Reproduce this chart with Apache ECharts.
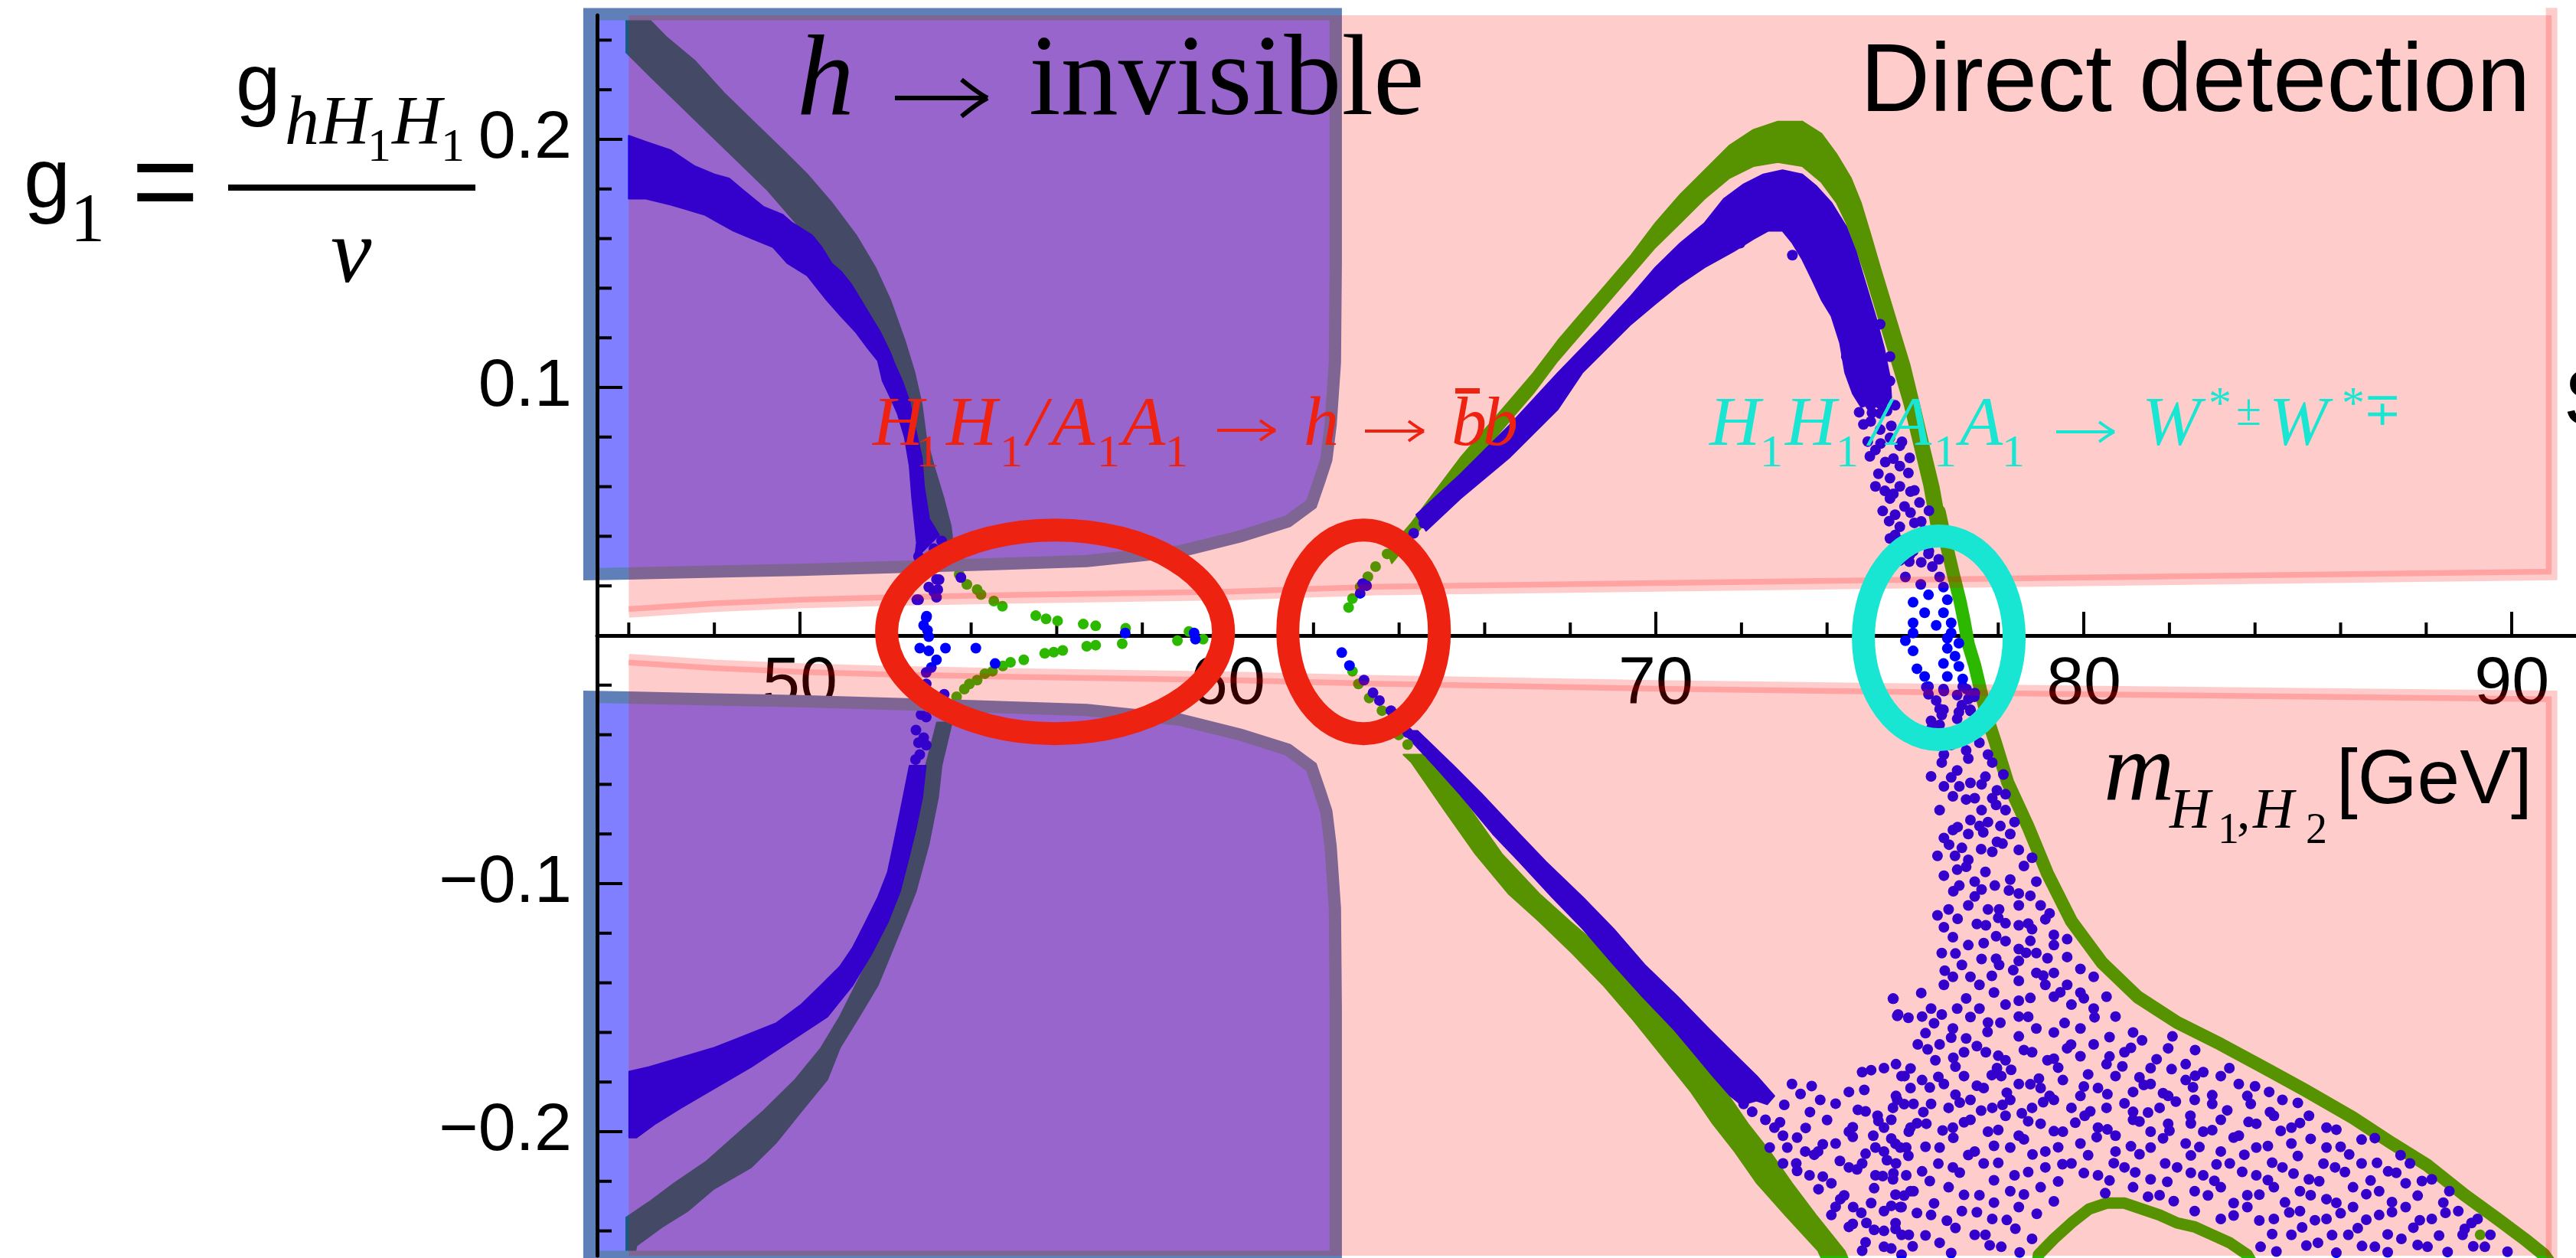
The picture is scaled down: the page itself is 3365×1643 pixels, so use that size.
<!DOCTYPE html>
<html>
<head>
<meta charset="utf-8">
<script src="https://cdn.jsdelivr.net/npm/echarts@6/dist/echarts.min.js"></script>
<style>
  html, body { margin: 0; padding: 0; background: #fff; }
  #chart { width: 3365px; height: 1643px; }
</style>
</head>
<body>
<div id="chart"></div>
<script>
// ---------------- axes ----------------
const xRange = [45.26, 91.5];
const yRange = [-0.25, 0.25];
const xMajorTicks = [50, 60, 70, 80, 90];
const xMinorTicks = [46, 48, 52, 54, 56, 58, 62, 64, 66, 68, 72, 74, 76, 78, 82, 84, 86, 88];
const yMajorTicks = [-0.2, -0.1, 0, 0.1, 0.2];
const yTickLabels = [-0.2, -0.1, 0.1, 0.2];
const yMinorTicks = [-0.24, -0.22, -0.18, -0.16, -0.14, -0.12, -0.08, -0.06, -0.04, -0.02,
                     0.02, 0.04, 0.06, 0.08, 0.12, 0.14, 0.16, 0.18, 0.22, 0.24];

// ---------------- excluded regions ----------------
// h -> invisible boundary (upper and lower)
const hInvUpper = [[45.08,0.2505],[62.52,0.2505],[62.52,0.15],[62.50,0.11],[62.40,0.085],[62.30,0.071],[62.15,0.063],[61.95,0.053],[61.40,0.046],[60.30,0.040],[58.90,0.034],[56.70,0.030],[54.00,0.0285],[52.00,0.0275],[50.00,0.0265],[48.00,0.0258],[46.00,0.0250],[45.08,0.0247]];
const hInvLower = [[45.08,-0.2505],[62.52,-0.2505],[62.52,-0.15],[62.50,-0.11],[62.40,-0.085],[62.30,-0.071],[62.15,-0.063],[61.95,-0.053],[61.40,-0.046],[60.30,-0.040],[58.90,-0.034],[56.70,-0.030],[54.00,-0.0285],[52.00,-0.0275],[50.00,-0.0265],[48.00,-0.0258],[46.00,-0.0250],[45.08,-0.0247]];
// direct detection limit
const ddUpperEdge = [[46,0.0095],[48,0.0118],[50,0.0133],[52,0.0142],[55,0.0152],[60,0.0165],[63.5,0.0185],[70,0.0200],[80,0.0222],[90.93,0.0246]];
const ddLowerEdge = [[46,-0.0097],[48,-0.0120],[50,-0.0135],[52,-0.0145],[55,-0.0155],[60,-0.0168],[63.5,-0.0183],[70,-0.0203],[80,-0.0225],[90.93,-0.0245]];
const ddLimits = { mMin: 46, mMax: 90.93, gTop: 0.25, gBottom: -0.25 };

// ---------------- scan points: dense bands (outlines) ----------------
const ulGreenBand = [[46.45,0.2520],[46.40,0.2497],[46.86,0.2415],[47.54,0.2317],[48.23,0.2186],[48.91,0.2072],[49.60,0.1957],[50.17,0.1859],[50.74,0.1745],[51.31,0.1614],[51.76,0.1484],[52.11,0.1353],[52.45,0.1189],[52.68,0.1059],[52.85,0.0928],[52.95,0.0797],[53.13,0.0683],[53.36,0.0552],[53.53,0.0438],[53.59,0.0340],[53.30,0.0340],[53.25,0.0389],[53.02,0.0487],[52.79,0.0601],[52.62,0.0716],[52.50,0.0846],[52.28,0.0993],[52.05,0.1124],[51.76,0.1255],[51.42,0.1353],[50.96,0.1467],[50.39,0.1565],[49.82,0.1680],[49.25,0.1794],[48.57,0.1908],[47.88,0.2023],[47.20,0.2137],[46.51,0.2252],[45.94,0.2350],[45.94,0.2520]];
const ulBlueBand = [[46.00,0.2015],[46.40,0.1990],[46.97,0.1957],[47.54,0.1892],[48.00,0.1859],[48.34,0.1843],[48.68,0.1794],[49.14,0.1729],[49.60,0.1696],[49.82,0.1663],[50.28,0.1614],[50.51,0.1565],[50.74,0.1500],[50.96,0.1467],[51.19,0.1418],[51.42,0.1353],[51.65,0.1287],[51.88,0.1222],[52.11,0.1140],[52.22,0.1091],[52.39,0.1026],[52.56,0.0944],[52.68,0.0846],[52.85,0.0716],[52.90,0.0601],[53.02,0.0471],[53.25,0.0405],[52.68,0.0307],[52.73,0.0372],[52.68,0.0454],[52.62,0.0552],[52.56,0.0683],[52.45,0.0797],[52.28,0.0895],[52.11,0.0961],[51.93,0.1026],[51.82,0.1108],[51.59,0.1157],[51.31,0.1222],[50.96,0.1287],[50.62,0.1353],[50.17,0.1451],[49.71,0.1500],[49.37,0.1565],[48.91,0.1598],[48.45,0.1631],[48.11,0.1663],[47.77,0.1696],[47.31,0.1720],[46.97,0.1737],[46.40,0.1761],[46.00,0.1761]];
const llGreenBand = [[53.55,-0.0350],[53.31,-0.0525],[53.23,-0.0651],[53.01,-0.0841],[52.71,-0.1031],[52.42,-0.1157],[52.12,-0.1284],[51.82,-0.1410],[51.38,-0.1537],[50.93,-0.1663],[50.64,-0.1790],[50.04,-0.1916],[49.45,-0.2043],[48.86,-0.2144],[47.97,-0.2233],[47.37,-0.2321],[46.78,-0.2384],[46.18,-0.2460],[46.10,-0.2530],[45.94,-0.2530],[45.94,-0.2346],[46.48,-0.2283],[47.07,-0.2207],[47.82,-0.2119],[48.48,-0.2018],[49.15,-0.1916],[49.89,-0.1790],[50.49,-0.1663],[50.93,-0.1537],[51.30,-0.1410],[51.75,-0.1259],[52.05,-0.1132],[52.34,-0.1006],[52.56,-0.0841],[52.79,-0.0651],[52.94,-0.0525],[53.20,-0.0350]];
const llBlueBand = [[46.01,-0.1758],[46.48,-0.1739],[47.22,-0.1701],[47.97,-0.1663],[48.71,-0.1613],[49.45,-0.1562],[50.04,-0.1486],[50.49,-0.1410],[50.93,-0.1335],[51.23,-0.1259],[51.53,-0.1157],[51.82,-0.1056],[52.05,-0.0955],[52.19,-0.0841],[52.34,-0.0715],[52.56,-0.0525],[52.94,-0.0525],[52.86,-0.0651],[52.71,-0.0778],[52.53,-0.0904],[52.34,-0.1031],[52.05,-0.1157],[51.67,-0.1284],[51.23,-0.1410],[50.64,-0.1537],[49.75,-0.1638],[48.86,-0.1739],[47.97,-0.1828],[47.22,-0.1904],[46.63,-0.1967],[46.18,-0.2024],[46.01,-0.2024]];
const archGreenBand = [[63.72,0.0340],[64.29,0.0454],[64.86,0.0585],[65.43,0.0716],[66.00,0.0830],[66.57,0.0944],[67.14,0.1059],[67.71,0.1189],[68.28,0.1304],[68.85,0.1418],[69.42,0.1533],[69.99,0.1663],[70.57,0.1778],[71.14,0.1876],[71.71,0.1974],[72.28,0.2039],[72.85,0.2072],[73.42,0.2072],[73.87,0.2023],[74.22,0.1941],[74.56,0.1843],[74.79,0.1745],[75.02,0.1614],[75.24,0.1484],[75.47,0.1353],[75.70,0.1222],[75.93,0.1092],[76.16,0.0928],[76.38,0.0765],[76.61,0.0601],[76.78,0.0438],[76.44,0.0438],[76.27,0.0601],[76.04,0.0765],[75.81,0.0928],[75.59,0.1059],[75.36,0.1189],[75.13,0.1320],[74.90,0.1451],[74.67,0.1565],[74.45,0.1663],[74.22,0.1745],[73.87,0.1827],[73.42,0.1892],[72.85,0.1908],[72.28,0.1892],[71.71,0.1843],[71.14,0.1761],[70.57,0.1663],[69.99,0.1565],[69.42,0.1451],[68.85,0.1337],[68.28,0.1222],[67.71,0.1108],[67.14,0.0977],[66.57,0.0863],[66.00,0.0748],[65.43,0.0634],[64.86,0.0503],[64.29,0.0389],[63.83,0.0291]];
const archBlueBand = [[64.40,0.0487],[65.43,0.0650],[66.57,0.0846],[67.71,0.1059],[68.63,0.1222],[69.42,0.1369],[69.99,0.1484],[70.57,0.1582],[71.14,0.1663],[71.59,0.1761],[72.05,0.1819],[72.51,0.1859],[72.96,0.1876],[73.42,0.1859],[73.76,0.1810],[74.10,0.1745],[74.45,0.1647],[74.67,0.1549],[74.90,0.1418],[75.13,0.1288],[75.33,0.1160],[75.47,0.1040],[75.50,0.0960],[75.30,0.0905],[75.05,0.0935],[74.80,0.0920],[74.60,0.0975],[74.42,0.1060],[74.30,0.1180],[74.10,0.1288],[73.87,0.1353],[73.65,0.1435],[73.42,0.1516],[73.19,0.1582],[72.96,0.1631],[72.62,0.1631],[72.28,0.1598],[71.82,0.1549],[71.14,0.1484],[70.57,0.1418],[69.99,0.1337],[69.42,0.1255],[68.85,0.1157],[68.28,0.1059],[67.71,0.0912],[66.57,0.0716],[65.43,0.0552],[64.63,0.0422]];
const lowerGreenBand = [[64.10,-0.0480],[64.29,-0.0512],[65.06,-0.0704],[65.78,-0.0880],[66.55,-0.1040],[67.27,-0.1152],[68.04,-0.1280],[68.76,-0.1408],[69.48,-0.1552],[70.30,-0.1728],[70.82,-0.1840],[71.33,-0.1968],[71.84,-0.2080],[72.36,-0.2208],[73.02,-0.2336],[73.79,-0.2480],[74.00,-0.2560],[74.61,-0.2560],[74.41,-0.2480],[73.74,-0.2336],[73.18,-0.2208],[72.66,-0.2080],[72.15,-0.1968],[71.64,-0.1840],[71.12,-0.1728],[70.30,-0.1552],[69.58,-0.1408],[68.86,-0.1280],[67.99,-0.1152],[67.27,-0.1040],[66.40,-0.0880],[65.68,-0.0704],[64.81,-0.0512],[64.55,-0.0480]];
const lowerBlueBand = [[64.06,-0.0384],[64.84,-0.0528],[65.42,-0.0640],[66.19,-0.0800],[66.81,-0.0912],[67.58,-0.1056],[68.30,-0.1184],[69.02,-0.1328],[69.69,-0.1456],[70.40,-0.1584],[70.87,-0.1680],[71.33,-0.1776],[71.74,-0.1856],[72.00,-0.1892],[72.35,-0.1875],[72.60,-0.1890],[72.77,-0.1856],[72.36,-0.1776],[71.79,-0.1680],[71.23,-0.1584],[70.51,-0.1456],[69.74,-0.1328],[69.02,-0.1184],[68.30,-0.1056],[67.43,-0.0912],[66.81,-0.0800],[65.94,-0.0640],[65.29,-0.0528],[64.43,-0.0384]];

// thin single-row green tracks
const rightGreenCurve = [[76.62,0.0500],[76.81,0.0350],[76.95,0.0247],[77.10,0.0144],[77.20,0.0061],[77.30,-0.0035],[77.45,-0.0120],[77.60,-0.0230],[77.74,-0.0330],[77.92,-0.0424],[78.22,-0.0592],[78.69,-0.0768],[79.15,-0.0960],[79.71,-0.1152],[80.43,-0.1320],[81.25,-0.1456],[82.18,-0.1560],[83.20,-0.1648],[84.23,-0.1744],[85.16,-0.1832],[86.29,-0.1944],[87.21,-0.2048],[88.03,-0.2136],[88.90,-0.2256],[89.67,-0.2352],[90.29,-0.2432],[90.75,-0.2496],[91.01,-0.2560]];
const bottomGreenArc = [[78.90,-0.2560],[78.94,-0.2496],[79.30,-0.2432],[79.71,-0.2368],[80.12,-0.2312],[80.53,-0.2288],[80.95,-0.2288],[81.36,-0.2312],[81.77,-0.2336],[82.18,-0.2368],[82.59,-0.2384],[83.00,-0.2416],[83.41,-0.2448],[83.82,-0.2496],[84.03,-0.2560]];

// ---------------- scan points: individual ----------------
const greenDots = [[53.62,0.0290],[53.72,0.0247],[53.90,0.0206],[54.14,0.0185],[54.23,0.0165],[54.53,0.0139],[54.73,0.0118],[55.51,0.0080],[55.75,0.0067],[56.02,0.0059],[56.62,0.0046],[56.91,0.0039],[57.61,0.0029],[59.09,0.0016],
  [59.42,-0.0015],[58.82,-0.0021],[57.53,-0.0033],[56.91,-0.0039],[56.70,-0.0043],[56.14,-0.0060],[55.93,-0.0067],[55.72,-0.0072],[55.23,-0.0098],[54.92,-0.0108],[54.74,-0.0123],[54.50,-0.0144],[54.32,-0.0154],[54.14,-0.0180],[53.96,-0.0195],[53.84,-0.0216],[53.66,-0.0247],[53.60,-0.0290],
  [62.82,0.0113],[62.91,0.0149],[63.09,0.0196],[63.27,0.0237],[63.45,0.0278],[63.72,0.0329],
  [62.91,-0.0144],[63.05,-0.0195],[63.30,-0.0252],[63.60,-0.0303],[63.80,-0.0345],[63.99,-0.0401],[64.20,-0.0440],[64.52,-0.0504],
  [89.26,-0.2416]];

const blueDotsAxis = [[52.95,0.0453],[52.89,0.0391],[52.83,0.0360],[52.77,0.0319],[53.13,0.0350],[53.31,0.0381],[53.25,0.0225],[53.13,0.0176],[52.73,0.0144],[53.76,0.0234],[52.96,0.0078],[52.77,0.0144],[53.19,0.0154],[53.22,0.0185],[53.01,0.0195],[53.19,0.0226],
  [52.95,0.0072],[52.89,0.0041],[52.98,0.0021],[53.01,-0.0005],[52.80,-0.0051],[53.01,-0.0062],[53.40,-0.0051],[54.11,-0.0051],[53.19,-0.0098],[54.56,-0.0113],[57.60,0.0010],[59.21,0.0010],[59.24,-0.0015],
  [52.95,-0.0149],[53.07,-0.0129],[52.95,-0.0195],[53.37,-0.0237],[52.89,-0.0257],[52.83,-0.0319],[52.95,-0.0329],[52.71,-0.0381],[52.89,-0.0412],[52.77,-0.0432],[52.95,-0.0442],[52.80,-0.0480],[52.70,-0.0500],
  [63.09,0.0170],[63.24,0.0201],[63.15,0.0209],[64.34,0.0412],[64.58,0.0453],
  [62.66,-0.0069],[62.84,-0.0121],[63.18,-0.0180],[63.39,-0.0231],[63.54,-0.0262],[63.81,-0.0303],[64.20,-0.0391]];

const blueDotsDescent = [[71.97,0.1582],[73.19,0.1533],[74.22,0.1320],[74.56,0.1255],[74.79,0.1222],[75.24,0.1255],[74.45,0.1124],[74.90,0.1140],[75.13,0.1173],[75.47,0.1124],[74.56,0.1091],[74.67,0.1026],[75.13,0.0993],[75.47,0.1026],[74.79,0.0961],[75.02,0.0928],[75.59,0.0928],[75.24,0.0895],[75.02,0.0863],[75.24,0.0830],[75.47,0.0797],[75.70,0.0765],[75.13,0.0748],[75.36,0.0699],[75.70,0.0683],[75.93,0.0716],[75.47,0.0634],[75.13,0.0601],[75.70,0.0601],[76.04,0.0585],[75.47,0.0552],[75.81,0.0520],[76.16,0.0536],[76.38,0.0503],[75.59,0.0487],[75.70,0.0438],[76.04,0.0454],[76.27,0.0422],[75.59,0.0405],[75.93,0.0324],[76.38,0.0340],[76.61,0.0307],
  [74.75,0.0900],[75.05,0.0898],[75.40,0.0905],[74.85,0.0851],[75.50,0.0845],[74.95,0.0782],[75.25,0.0774],[75.75,0.0781],[75.00,0.0722],[75.55,0.0713],[75.20,0.0652],[75.90,0.0655],[75.35,0.0583],[75.55,0.0571],[75.95,0.0580],[75.30,0.0502],[75.95,0.0495],[75.45,0.0461],[76.20,0.0460],[75.75,0.0383],[76.10,0.0371],[76.45,0.0380],[75.70,0.0302],[76.20,0.0295]];

const blueDotsCircle = [[75.47,0.0391],[76.01,0.0339],[76.37,0.0329],[75.92,0.0298],[76.46,0.0278],[76.63,0.0236],[75.83,0.0236],[76.19,0.0206],[76.72,0.0195],[76.37,0.0164],[76.01,0.0134],[76.81,0.0144],[76.28,0.0092],[76.72,0.0092],[76.01,0.0051],[76.55,0.0041],[76.90,0.0051],[76.01,0.0010],[76.90,0.0010],[75.83,-0.0021],[76.81,-0.0011],[77.08,-0.0031],[76.01,-0.0062],[76.81,-0.0052],[76.99,-0.0083],[76.72,-0.0113],[77.08,-0.0124],[76.10,-0.0134],[76.28,-0.0165],[76.81,-0.0165],[77.17,-0.0175],[76.37,-0.0206],[76.72,-0.0216],[77.26,-0.0216],[77.17,-0.0206],[76.37,-0.0237],[77.44,-0.0247],[76.72,-0.0299],[77.08,-0.0309],[77.35,-0.0299],[76.63,-0.0360]];

const blueDotsStream = [[76.32,-0.0208],[76.73,-0.0224],[77.04,-0.0240],[77.30,-0.0256],[77.45,-0.0232],[76.63,-0.0296],[76.68,-0.0320],[77.04,-0.0336],[77.35,-0.0304],[76.43,-0.0344],
  [77.56,-0.0432],[77.76,-0.0480],[76.73,-0.0480],[77.30,-0.0496],[77.86,-0.0512],[77.04,-0.0544],[78.12,-0.0560],[76.43,-0.0568],[76.68,-0.0512],
  [76.73,-0.0608],[77.09,-0.0608],[77.61,-0.0600],[77.97,-0.0624],[76.94,-0.0648],[77.45,-0.0656],[77.86,-0.0656],[78.17,-0.0640],[76.63,-0.0704],[77.61,-0.0704],[78.17,-0.0704],
  [77.35,-0.0744],[77.76,-0.0752],[78.38,-0.0752],[77.56,-0.0768],[76.94,-0.0784],[76.73,-0.0816],[77.30,-0.0800],[78.28,-0.0800],[77.97,-0.0832],[77.15,-0.0856],[76.58,-0.0888],[76.99,-0.0888],[77.30,-0.0904],[78.48,-0.0864],[78.79,-0.0896],[77.86,-0.0872],
  [76.73,-0.0968],[77.04,-0.0944],[77.45,-0.0992],[77.92,-0.1008],[78.28,-0.0984],[78.48,-0.1040],[78.89,-0.0992],[77.09,-0.1008],[77.61,-0.1024],[77.30,-0.1088],[78.02,-0.1104],[78.48,-0.1088],[78.99,-0.1088],[79.20,-0.1120],[77.76,-0.1104],[76.84,-0.1104],[76.58,-0.1128],
  [76.73,-0.1176],[76.94,-0.1216],[77.71,-0.1168],[78.17,-0.1160],[78.48,-0.1168],[78.79,-0.1184],[79.10,-0.1144],[79.30,-0.1248],[78.89,-0.1280],[78.17,-0.1232],[77.30,-0.1248],[78.48,-0.1264],[77.66,-0.1240],[76.68,-0.1280],[79.61,-0.1224],
  [77.15,-0.1328],[77.35,-0.1376],[77.61,-0.1304],[78.02,-0.1328],[78.48,-0.1312],[78.89,-0.1360],[79.30,-0.1360],[79.61,-0.1296],[79.92,-0.1344],[80.23,-0.1376],[76.73,-0.1408],[77.56,-0.1408],[78.48,-0.1392],[79.10,-0.1408],[79.61,-0.1408],[79.92,-0.1440],[76.94,-0.1376],
  [76.43,-0.1504],[76.22,-0.1536],[75.55,-0.1464],[75.66,-0.1528],[76.68,-0.1528],[77.04,-0.1504],[77.56,-0.1504],[77.76,-0.1560],[78.17,-0.1488],[78.48,-0.1536],[78.89,-0.1584],[78.48,-0.1472],[79.30,-0.1456],[79.71,-0.1488],[79.92,-0.1584],[80.23,-0.1504],[80.53,-0.1456],[80.74,-0.1536],[81.15,-0.1600],[79.30,-0.1600],[76.94,-0.1584],[75.54,-0.1464],[75.64,-0.1533],
  [76.55,-0.0262],[77.15,-0.0281],[76.45,-0.0371],[76.95,-0.0392],[77.40,-0.0368],[76.90,-0.0441],[77.25,-0.0463],[76.90,-0.0572],[77.35,-0.0594],[77.70,-0.0569],[77.25,-0.0661],[77.95,-0.0683],[77.05,-0.0772],[77.65,-0.0793],[78.05,-0.0768],[76.85,-0.0843],[77.60,-0.0861],[78.10,-0.0839],[77.25,-0.0932],[77.70,-0.0953],[78.60,-0.0929],[76.95,-0.1031],[77.45,-0.1052],[78.25,-0.1028],[78.75,-0.1049],[77.05,-0.1142],[77.50,-0.1163],[78.00,-0.1138],[78.70,-0.1161],[77.95,-0.1212],[78.75,-0.1231],[79.30,-0.1207],[77.00,-0.1282],[77.95,-0.1303],[78.65,-0.1279],[79.15,-0.1301],[76.75,-0.1351],[77.85,-0.1372],[78.35,-0.1349],[79.05,-0.1371],[76.20,-0.1441],[77.25,-0.1463],[77.90,-0.1439],[78.75,-0.1461],[79.45,-0.1438],[80.00,-0.1462],[75.90,-0.1541],[76.50,-0.1563],[77.35,-0.1538],[78.05,-0.1561],[78.70,-0.1537],[79.55,-0.1562],[80.25,-0.1539],[76.30,-0.1603],[76.90,-0.1621],[77.75,-0.1598],[80.60,-0.1619]];

const blueDotsCloud = [[76.12,-0.1648],[76.63,-0.1648],[77.25,-0.1624],[77.71,-0.1680],[78.17,-0.1712],[78.48,-0.1616],[78.79,-0.1680],[79.61,-0.1664],[79.92,-0.1696],[80.23,-0.1648],[80.53,-0.1728],[80.95,-0.1680],[81.36,-0.1632],[81.56,-0.1744],[81.97,-0.1664],[82.38,-0.1728],[82.07,-0.1616],[75.61,-0.1728],[76.53,-0.1712],[77.20,-0.1680],[79.15,-0.1712],[77.97,-0.1744],
  [75.81,-0.1776],[76.22,-0.1792],[76.73,-0.1808],[77.20,-0.1776],[77.66,-0.1824],[78.07,-0.1776],[78.48,-0.1808],[78.99,-0.1824],[79.51,-0.1792],[79.92,-0.1856],[80.33,-0.1824],[80.74,-0.1776],[81.15,-0.1840],[81.56,-0.1808],[81.97,-0.1856],[82.38,-0.1792],[82.79,-0.1760],[83.20,-0.1776],[83.62,-0.1808],[83.82,-0.1856],[84.33,-0.1840],[75.61,-0.1856],[76.02,-0.1888],[76.43,-0.1888],[76.84,-0.1904],[77.35,-0.1872],[77.86,-0.1904],[78.28,-0.1872],[78.79,-0.1904],[79.30,-0.1872],[79.71,-0.1904],[80.53,-0.1904],[81.15,-0.1920],[81.77,-0.1904],[82.59,-0.1872],[83.00,-0.1888],[84.64,-0.1872],
  [75.50,-0.1952],[75.91,-0.2000],[76.32,-0.1968],[76.94,-0.1984],[77.35,-0.1952],[77.76,-0.2000],[78.17,-0.1936],[78.48,-0.2016],[78.99,-0.1968],[79.51,-0.2000],[80.02,-0.1936],[80.33,-0.1984],[80.74,-0.2016],[81.15,-0.1952],[81.56,-0.2000],[81.97,-0.1968],[82.49,-0.1936],[82.79,-0.2000],[83.20,-0.1952],[83.62,-0.2016],[84.03,-0.1968],[84.44,-0.1936],[84.85,-0.1984],[85.26,-0.1936],[85.67,-0.1984],[75.71,-0.2064],[76.63,-0.2064],[77.45,-0.2080],[78.28,-0.2064],[79.10,-0.2080],[79.92,-0.2048],[80.74,-0.2080],[81.56,-0.2064],[82.38,-0.2048],[83.20,-0.2080],[84.03,-0.2064],[84.85,-0.2048],[85.67,-0.2064],[86.49,-0.2032],
  [75.61,-0.2128],[76.22,-0.2160],[76.94,-0.2144],[77.66,-0.2128],[78.38,-0.2176],[79.10,-0.2144],[79.71,-0.2128],[80.33,-0.2176],[80.95,-0.2144],[81.56,-0.2192],[82.18,-0.2144],[82.79,-0.2176],[83.41,-0.2128],[84.03,-0.2176],[84.64,-0.2144],[85.26,-0.2192],[85.87,-0.2144],[86.49,-0.2128],[87.11,-0.2160],[87.62,-0.2128],[76.02,-0.2240],[76.84,-0.2224],[77.56,-0.2256],[78.28,-0.2240],[78.99,-0.2224],[81.15,-0.2224],[81.77,-0.2256],[82.59,-0.2240],[83.20,-0.2224],[83.82,-0.2256],[84.44,-0.2224],[85.05,-0.2240],[85.67,-0.2272],[86.29,-0.2224],[86.90,-0.2240],[87.52,-0.2208],[88.13,-0.2192],[88.54,-0.2240],
  [75.71,-0.2304],[76.43,-0.2336],[77.15,-0.2320],[77.86,-0.2352],[78.48,-0.2304],[82.59,-0.2320],[83.20,-0.2352],[83.82,-0.2304],[84.44,-0.2352],[85.05,-0.2320],[85.67,-0.2352],[86.29,-0.2304],[86.90,-0.2336],[87.52,-0.2304],[88.13,-0.2352],[88.75,-0.2320],[89.06,-0.2368],[75.91,-0.2416],[76.63,-0.2448],[77.45,-0.2416],[78.07,-0.2464],[78.79,-0.2432],[84.13,-0.2464],[84.85,-0.2416],[85.47,-0.2448],[86.18,-0.2416],[86.80,-0.2464],[87.42,-0.2432],[88.03,-0.2464],[89.37,-0.2464],[88.85,-0.2416],
  [71.84,-0.1840],[72.05,-0.1888],[72.25,-0.1920],[72.56,-0.1952],[72.77,-0.1984],[72.97,-0.2016],[72.66,-0.2064],[73.07,-0.2064],[73.49,-0.2080],[73.18,-0.1808],[73.38,-0.1848],[73.64,-0.1816],[73.84,-0.1872],[74.51,-0.1840],[74.87,-0.1832],[74.82,-0.1760],[75.03,-0.1752],[75.33,-0.1744],[75.74,-0.1776],[75.95,-0.1824],[75.64,-0.1872],[75.54,-0.1904],[75.18,-0.1936],[74.72,-0.1912],[75.33,-0.1984],[75.08,-0.2016],[75.13,-0.2064],[75.33,-0.2080],[75.85,-0.2064],[75.95,-0.1984],[74.51,-0.2000],[74.20,-0.2048],[73.79,-0.2080],[73.28,-0.2128],[72.97,-0.2128],[73.59,-0.2176],[74.10,-0.2208],[74.51,-0.2144],[74.82,-0.2128],[75.13,-0.2176],[75.54,-0.2192],[75.85,-0.2176],[75.95,-0.2240],[74.31,-0.2272],[74.61,-0.2304],[75.03,-0.2288],[75.33,-0.2320],[75.74,-0.2304],[74.10,-0.2336],[74.51,-0.2384],[74.92,-0.2368],[75.33,-0.2400],[75.74,-0.2416],[75.33,-0.2464],[75.74,-0.2496],[74.82,-0.2480],
  [76.35,-0.1668],[76.95,-0.1702],[77.50,-0.1655],[78.00,-0.1694],[78.60,-0.1671],[79.30,-0.1706],[79.70,-0.1649],[80.60,-0.1697],[81.10,-0.1662],[81.70,-0.1708],[82.60,-0.1671],
  [75.95,-0.1745],[76.60,-0.1779],[77.00,-0.1738],[77.85,-0.1772],[78.30,-0.1751],[78.95,-0.1786],[79.40,-0.1742],[80.10,-0.1769],[80.90,-0.1737],[81.30,-0.1781],[82.05,-0.1748],[82.60,-0.1775],[83.40,-0.1744],
  [76.40,-0.1822],[77.00,-0.1851],[77.50,-0.1815],[78.20,-0.1843],[78.75,-0.1809],[79.20,-0.1856],[80.00,-0.1818],[80.55,-0.1849],[81.40,-0.1812],[81.85,-0.1845],[82.55,-0.1821],[83.00,-0.1853],[84.00,-0.1817],
  [75.80,-0.1889],[76.25,-0.1921],[77.10,-0.1883],[77.60,-0.1915],[78.10,-0.1892],[78.55,-0.1926],[79.05,-0.1881],[80.15,-0.1918],[80.95,-0.1886],[81.50,-0.1923],[82.15,-0.1879],[83.35,-0.1914],[83.90,-0.1888],[84.35,-0.1921],[85.00,-0.1884],
  [76.10,-0.1966],[76.70,-0.1995],[77.20,-0.1962],[78.00,-0.1993],[78.70,-0.1958],[79.30,-0.1998],[79.80,-0.1964],[80.55,-0.1991],[81.30,-0.1959],[82.00,-0.1996],[82.50,-0.1967],[83.00,-0.1994],[83.85,-0.1961],[84.60,-0.1997],[85.05,-0.1965],[85.90,-0.1992],
  [75.50,-0.2028],[76.30,-0.2061],[76.95,-0.2025],[77.90,-0.2057],[78.60,-0.2031],[79.40,-0.2063],[80.30,-0.2022],[81.10,-0.2059],[81.85,-0.2027],[82.70,-0.2062],[83.50,-0.2024],[84.30,-0.2058],[85.30,-0.2029],[86.00,-0.2061],[86.80,-0.2026],
  [75.90,-0.2097],[76.60,-0.2129],[77.30,-0.2094],[78.00,-0.2126],[78.80,-0.2092],[79.50,-0.2131],[80.10,-0.2095],[80.70,-0.2127],[81.30,-0.2091],[81.90,-0.2128],[82.50,-0.2096],[83.10,-0.2132],[83.75,-0.2093],[84.40,-0.2125],[85.00,-0.2098],[85.60,-0.2129],[86.20,-0.2092],[86.85,-0.2126],[87.40,-0.2095],
  [75.55,-0.2168],[76.40,-0.2199],[77.10,-0.2165],[77.90,-0.2196],[78.70,-0.2163],[79.40,-0.2201],[80.00,-0.2167],[80.60,-0.2197],[81.20,-0.2164],[81.95,-0.2202],[82.50,-0.2166],[83.05,-0.2198],[83.70,-0.2162],[84.30,-0.2195],[84.90,-0.2169],[85.50,-0.2200],[86.10,-0.2163],[86.70,-0.2197],[87.30,-0.2166],[87.90,-0.2199],
  [75.80,-0.2258],[76.50,-0.2289],[77.20,-0.2255],[77.90,-0.2286],[78.60,-0.2253],[79.30,-0.2281],[80.50,-0.2248],[81.50,-0.2262],[82.10,-0.2280],[82.90,-0.2257],[83.50,-0.2288],[84.10,-0.2254],[84.70,-0.2285],[85.30,-0.2256],[85.90,-0.2287],[86.60,-0.2252],[87.20,-0.2284],[87.80,-0.2258],[88.40,-0.2286],
  [76.10,-0.2328],[76.80,-0.2359],[77.50,-0.2325],[78.20,-0.2356],[78.90,-0.2331],[83.50,-0.2338],[84.10,-0.2358],[84.80,-0.2326],[85.40,-0.2357],[86.00,-0.2329],[86.60,-0.2355],[87.20,-0.2324],[87.85,-0.2357],[88.45,-0.2327],[89.20,-0.2352],
  [75.60,-0.2392],[76.30,-0.2418],[77.00,-0.2388],[77.70,-0.2416],[78.40,-0.2391],[84.40,-0.2413],[85.10,-0.2386],[85.80,-0.2417],[86.40,-0.2389],[87.10,-0.2414],[87.70,-0.2387],[88.30,-0.2419],[88.90,-0.2392],[89.50,-0.2416],
  [76.00,-0.2462],[76.90,-0.2489],[77.80,-0.2458],[78.50,-0.2487],[84.50,-0.2483],[85.20,-0.2459],[85.90,-0.2488],[86.50,-0.2461],[87.10,-0.2486],[87.80,-0.2457],[88.50,-0.2485],[89.10,-0.2462],[89.90,-0.2484],
  [73.00,-0.1892],[73.60,-0.1921],[74.20,-0.1887],[74.90,-0.1918],[72.90,-0.1962],[73.50,-0.1985],[74.00,-0.1953],[74.60,-0.1982],[75.20,-0.1957],[73.30,-0.2024],[73.90,-0.2051],[74.60,-0.2021],[75.60,-0.2049],[73.70,-0.2093],[74.30,-0.2118],[74.90,-0.2089],[75.40,-0.2115],[73.30,-0.2158],[73.90,-0.2181],[74.70,-0.2152],[75.30,-0.2179],[73.80,-0.2232],[74.40,-0.2257],[75.10,-0.2228],[75.60,-0.2254],[74.20,-0.2303],[74.80,-0.2327],[75.50,-0.2299],[74.60,-0.2372],[75.10,-0.2396],[75.60,-0.2369],[74.90,-0.2446],[75.50,-0.2471]];

// ---------------- annotation rings ----------------
const rings = [
  { center: [55.96, 0.0015], radius: [3.936, 0.04105], color: '#ee2211' },
  { center: [63.17, 0.0015], radius: [1.771, 0.04105], color: '#ee2211' },
  { center: [76.61, -0.0009], radius: [1.762, 0.04105], color: '#19e6d2' }
];

// ---------------- styles ----------------
const GREEN = '#2db800';
const BLUE = '#0000ff';
const RED = '#ee2211';
const CYAN = '#19e6d2';
const SERIF = '"Liberation Serif", "DejaVu Serif", serif';
const SANS = '"Liberation Sans", Arial, sans-serif';

function polygonSeries(points, style, z) {
  return {
    type: 'custom', coordinateSystem: 'cartesian2d', z, silent: true, animation: false,
    data: points,
    renderItem(params, api) {
      if (params.dataIndex !== 0) return null;
      return { type: 'polygon', shape: { points: points.map(p => api.coord(p)) }, style };
    }
  };
}
function polylineSeries(points, style, z) {
  return {
    type: 'custom', coordinateSystem: 'cartesian2d', z, silent: true, animation: false,
    data: points,
    renderItem(params, api) {
      if (params.dataIndex !== 0) return null;
      return { type: 'polyline', shape: { points: points.map(p => api.coord(p)) },
        style: Object.assign({ fill: null }, style) };
    }
  };
}
function dotSeries(points, color) {
  return { type: 'scatter', data: points, symbol: 'circle', symbolSize: 14, z: 2,
    itemStyle: { color, opacity: 1 }, silent: true, animation: false, clip: false };
}
const bandStyle = c => ({ fill: c, stroke: c, lineWidth: 2, lineJoin: 'round' });

// direct-detection excluded area, above and below the limit
const ddUpperArea = [[ddLimits.mMin, ddLimits.gTop], [ddLimits.mMax, ddLimits.gTop]].concat(ddUpperEdge.slice().reverse());
const ddLowerArea = [[ddLimits.mMin, ddLimits.gBottom], [ddLimits.mMax, ddLimits.gBottom]].concat(ddLowerEdge.slice().reverse());
const ddUpperLine = ddUpperEdge.concat([[ddLimits.mMax, ddLimits.gTop + 0.003]]);
const ddLowerLine = ddLowerEdge.concat([[ddLimits.mMax, ddLimits.gBottom - 0.003]]);

const series = [
  // minor ticks and tick labels on the horizontal axis
  { type: 'custom', coordinateSystem: 'cartesian2d', z: 1, silent: true, animation: false,
    data: xMinorTicks.map(v => [v, 0]),
    renderItem(params, api) {
      const p = api.coord([api.value(0), 0]);
      return { type: 'line', shape: { x1: p[0], y1: p[1], x2: p[0], y2: p[1] - 17 }, style: { stroke: '#000', lineWidth: 4 } };
    } },
  { type: 'custom', coordinateSystem: 'cartesian2d', z: 1, silent: true, animation: false,
    data: xMajorTicks.map(v => [v, 0]),
    renderItem(params, api) {
      const v = api.value(0);
      const p = api.coord([v, 0]);
      return { type: 'text', x: p[0], y: p[1] + 65,
        style: { text: String(v), font: '88px ' + SANS, fill: '#000', align: 'center', verticalAlign: 'middle' } };
    } },
  // scan points
  polygonSeries(ulGreenBand, bandStyle(GREEN), 2),
  polygonSeries(llGreenBand, bandStyle(GREEN), 2),
  polygonSeries(archGreenBand, bandStyle(GREEN), 2),
  polygonSeries(lowerGreenBand, bandStyle(GREEN), 2),
  polylineSeries(rightGreenCurve, { stroke: GREEN, lineWidth: 17, lineCap: 'round', lineJoin: 'round' }, 2),
  polylineSeries(bottomGreenArc, { stroke: GREEN, lineWidth: 15, lineCap: 'round', lineJoin: 'round' }, 2),
  dotSeries(greenDots, GREEN),
  polygonSeries(ulBlueBand, bandStyle(BLUE), 2),
  polygonSeries(llBlueBand, bandStyle(BLUE), 2),
  polygonSeries(archBlueBand, bandStyle(BLUE), 2),
  polygonSeries(lowerBlueBand, bandStyle(BLUE), 2),
  dotSeries(blueDotsAxis, BLUE),
  dotSeries(blueDotsDescent, BLUE),
  dotSeries(blueDotsCircle, BLUE),
  dotSeries(blueDotsStream, BLUE),
  dotSeries(blueDotsCloud, BLUE),
  // h -> invisible exclusion
  polygonSeries(hInvUpper, { fill: 'rgba(0,0,255,0.5)', stroke: '#5f7fb8', lineWidth: 16, lineJoin: 'miter' }, 3),
  polygonSeries(hInvLower, { fill: 'rgba(0,0,255,0.5)', stroke: '#5f7fb8', lineWidth: 16, lineJoin: 'miter' }, 3),
  // direct detection exclusion
  polygonSeries(ddUpperArea, { fill: 'rgba(255,0,0,0.2)' }, 4),
  polygonSeries(ddLowerArea, { fill: 'rgba(255,0,0,0.2)' }, 4),
  polylineSeries(ddUpperLine, { stroke: 'rgba(255,0,0,0.2)', lineWidth: 15 }, 4),
  polylineSeries(ddLowerLine, { stroke: 'rgba(255,0,0,0.2)', lineWidth: 15 }, 4),
  // minor ticks on the vertical axis
  { type: 'custom', coordinateSystem: 'cartesian2d', z: 10, silent: true, animation: false,
    data: yMinorTicks.map(v => [xRange[0], v]),
    renderItem(params, api) {
      const p = api.coord([xRange[0], api.value(1)]);
      return { type: 'line', shape: { x1: p[0], y1: p[1], x2: p[0] + 19, y2: p[1] }, style: { stroke: '#000', lineWidth: 4 } };
    } },
  // highlighted regions
  { type: 'custom', coordinateSystem: 'cartesian2d', z: 20, silent: true, animation: false,
    data: rings.map(r => r.center),
    renderItem(params, api) {
      const r = rings[params.dataIndex];
      const c = api.coord(r.center);
      const s = api.size(r.radius, r.center);
      return { type: 'ellipse', shape: { cx: c[0], cy: c[1], rx: s[0], ry: s[1] },
        style: { fill: null, stroke: r.color, lineWidth: 30 } };
    } }
];

// ---------------- text ----------------
function piece(text, x, baseline, size, opt) {
  opt = opt || {};
  const font = (opt.italic ? 'italic ' : '') + size + 'px ' + (opt.sans ? SANS : SERIF);
  return { type: 'text', x, y: baseline - 0.34 * size, z: 30, silent: true,
    style: { text, font, fill: opt.color || '#000', align: 'left', verticalAlign: 'middle' } };
}
// thin text-style arrow: shaft plus two curved barbs
function arrow(x1, x2, y, lw, headLen, headHalf, color) {
  const barb = s => ({ type: 'bezierCurve', z: 30, silent: true,
    shape: { x1: x2 - headLen, y1: y + s * headHalf, cpx1: x2 - headLen * 0.35, cpy1: y + s * headHalf * 0.25, x2: x2, y2: y },
    style: { stroke: color, lineWidth: lw, fill: null } });
  return [
    { type: 'line', z: 30, silent: true, shape: { x1, y1: y, x2: x2 - lw, y2: y }, style: { stroke: color, lineWidth: lw } },
    barb(-1), barb(1)
  ];
}
const it = { italic: true };
const sans = { sans: true };
const redIt = { italic: true, color: RED }, red = { color: RED };
const cyanIt = { italic: true, color: CYAN }, cyan = { color: CYAN };

const texts = [
  // vertical axis title: g1 = g_{hH1H1} / v
  piece('g', 31, 277, 110, sans),
  piece('1', 92, 322, 90),
  piece('=', 172, 298, 150, sans),
  { type: 'rect', z: 30, silent: true, shape: { x: 298, y: 241, width: 323, height: 8 }, style: { fill: '#000' } },
  piece('g', 308, 151, 105, sans),
  piece('h', 372, 195, 90, it),
  piece('H', 418, 195, 90, it),
  piece('1', 480, 215, 62),
  piece('H', 512, 195, 90, it),
  piece('1', 576, 215, 62),
  piece('v', 432, 377, 120, it),
  // horizontal axis title
  piece('m', 2748, 1055, 128, it),
  piece('H', 2834, 1087, 74, it),
  piece('1', 2897, 1105, 56),
  piece(',', 2922, 1087, 70),
  piece('H', 2943, 1087, 74, it),
  piece('2', 3012, 1105, 56),
  piece('[GeV]', 3052, 1055, 100, sans),
  // region labels
  piece('h', 1041, 161, 150, it),
  ...arrow(1169, 1290, 128, 6, 34, 24, '#000'),
  piece('invisible', 1344, 161, 150),
  piece('Direct detection', 2430, 153, 126, sans),
  // start of the neighbouring panel's label, cut by the right edge
  piece('S', 3349, 562, 104, sans),
  // annihilation channels
  piece('H', 1140, 588, 92, redIt), piece('1', 1197, 614, 60, red),
  piece('H', 1236, 588, 92, redIt), piece('1', 1306, 614, 60, red),
  piece('/', 1342, 588, 92, redIt),
  piece('A', 1374, 588, 92, redIt), piece('1', 1433, 614, 60, red),
  piece('A', 1466, 588, 92, redIt), piece('1', 1522, 614, 60, red),
  ...arrow(1590, 1666, 562, 4, 20, 13, RED),
  piece('h', 1703, 588, 92, redIt),
  ...arrow(1783, 1860, 563, 4, 20, 13, RED),
  piece('b', 1896, 588, 92, redIt),
  { type: 'rect', z: 30, silent: true, shape: { x: 1901, y: 507, width: 32, height: 7 }, style: { fill: RED } },
  piece('b', 1937, 588, 92, redIt),
  piece('H', 2233, 588, 92, cyanIt), piece('1', 2299, 614, 60, cyan),
  piece('H', 2332, 588, 92, cyanIt), piece('1', 2398, 614, 60, cyan),
  piece('/', 2442, 588, 92, cyanIt),
  piece('A', 2467, 588, 92, cyanIt), piece('1', 2526, 614, 60, cyan),
  piece('A', 2560, 588, 92, cyanIt), piece('1', 2615, 614, 60, cyan),
  ...arrow(2686, 2762, 564, 4, 20, 13, CYAN),
  piece('W', 2798, 588, 92, cyanIt),
  piece('*', 2885, 551, 60, cyan), piece('\u00b1', 2921, 560, 60, cyan),
  piece('W', 2964, 588, 92, cyanIt),
  piece('*', 3059, 551, 60, cyan), piece('\u2213', 3087, 560, 60, cyan)
];

const chart = echarts.init(document.getElementById('chart'), null, { renderer: 'canvas' });
chart.setOption({
  backgroundColor: '#ffffff',
  animation: false,
  grid: { left: 780, right: 0, top: 20, bottom: 3, containLabel: false, outerBoundsMode: 'none' },
  xAxis: {
    type: 'value', min: xRange[0], max: xRange[1], z: 1,
    axisLine: { show: true, onZero: true, lineStyle: { color: '#000', width: 5 } },
    axisTick: { show: true, inside: true, length: 31, customValues: xMajorTicks, lineStyle: { color: '#000', width: 4 } },
    axisLabel: { show: false },
    splitLine: { show: false }
  },
  yAxis: {
    type: 'value', min: yRange[0], max: yRange[1], z: 10,
    axisLine: { show: true, onZero: false, lineStyle: { color: '#000', width: 5 } },
    axisTick: { show: true, inside: true, length: 33, customValues: yMajorTicks, lineStyle: { color: '#000', width: 4 } },
    axisLabel: { show: true, customValues: yTickLabels, margin: 33, color: '#000', fontSize: 88, fontFamily: 'Liberation Sans',
      padding: [0, 0, 20, 0],
      formatter: v => (v < 0 ? '\u2212' : '') + Math.abs(v).toFixed(1) },
    splitLine: { show: false }
  },
  series,
  graphic: { elements: texts }
});
</script>
</body>
</html>
